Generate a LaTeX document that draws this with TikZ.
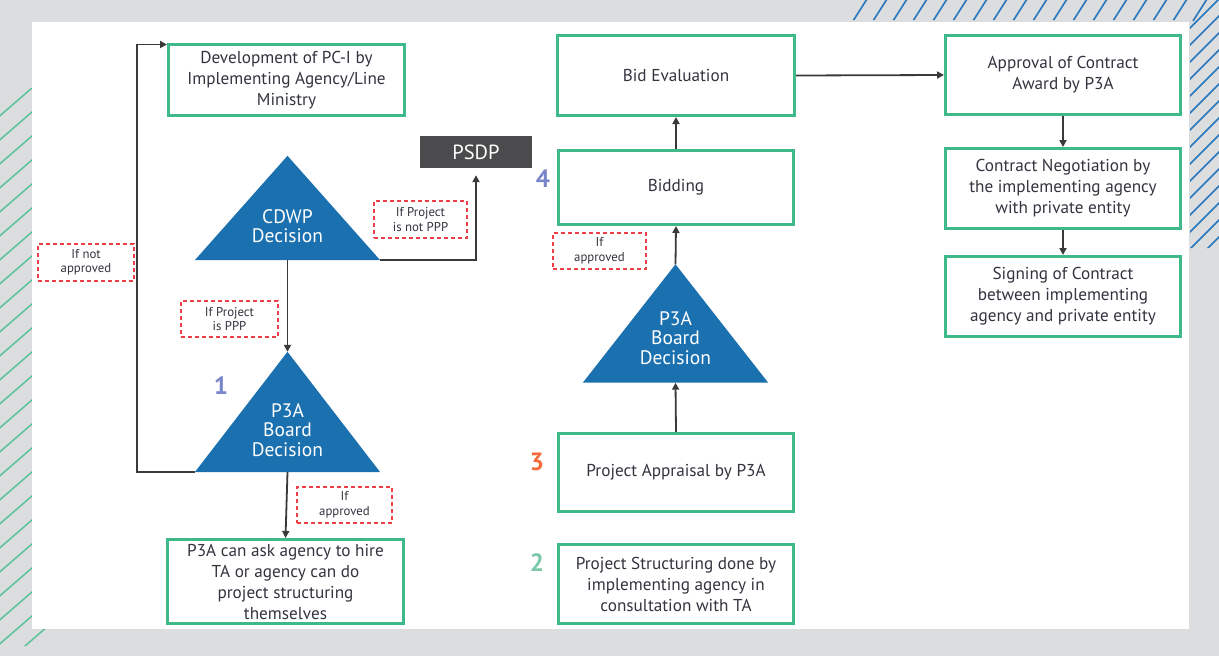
\documentclass[tikz,border=0pt]{standalone}
\usepackage{fontspec}
\setmainfont{PT Sans}
\usetikzlibrary{arrows.meta}
\definecolor{bggrey}{HTML}{DCDDDF}
\definecolor{boxgreen}{HTML}{3DB98A}
\definecolor{hgreen}{HTML}{5FC49B}
\definecolor{hblue}{HTML}{2677BD}
\definecolor{triblue}{HTML}{1B70AF}
\definecolor{txt}{HTML}{34333F}
\definecolor{dashred}{HTML}{EE3E46}
\definecolor{psdpgrey}{HTML}{4B4B4D}
\definecolor{arrowgrey}{HTML}{3A3A3A}
\definecolor{numblue}{HTML}{7885C8}
\definecolor{numorange}{HTML}{F26B3A}
\definecolor{numgreen}{HTML}{7CC8A8}
\tikzset{
  gbox/.style={draw=boxgreen, line width=3pt, fill=white, inner sep=0pt, align=center,
    text=txt, font=\fontsize{17.2}{21}\selectfont},
  condbox/.style={draw=dashred, line width=1.5pt, dash pattern=on 4pt off 3pt, inner sep=0pt,
    align=center, text=txt, font=\fontsize{12.8}{14.5}\selectfont},
  trinode/.style={inner sep=0pt, draw=none},
  tritext/.style={text=white, align=center, font=\fontsize{19.5}{19.5}\selectfont},
  numlabel/.style={font=\fontsize{25}{25}\selectfont\bfseries},
  conn/.style={draw=arrowgrey, line width=1.8pt, -{Triangle[length=7pt,width=7pt]}},
  plainconn/.style={draw=arrowgrey, line width=1.8pt}
}
\begin{document}
\begin{tikzpicture}[x=1pt,y=-1pt]
\useasboundingbox (0,0) rectangle (1219,656);
\fill[bggrey] (0,0) rectangle (1219,656);
% hatching left (green)
\begin{scope}
  \clip (0,88) -- (32,88) -- (32,629) -- (48,629) -- (48,646) -- (0,646) -- cycle;
  \foreach \i in {0,...,26} {
    \draw[hgreen, line width=1.6pt] (-5,{88+\i*24+28+4}) -- ++(60,-52);
  }
\end{scope}
% hatching top-right (blue)
\begin{scope}
  \clip (853,0) -- (1219,0) -- (1219,248) -- (1190,248) -- (1190,20) -- (853,20) -- cycle;
  \foreach \i in {0,...,17} {
    \draw[hblue, line width=1.6pt] ({853+\i*20},21) -- ++(14,-22);
  }
  \foreach \i in {0,...,16} {
    \draw[hblue, line width=1.6pt] (1188,{30+\i*17}) -- ++(32,-32);
  }
\end{scope}
\fill[white] (32,22) rectangle (1189,629);

% boxes
\node[gbox, minimum width=236pt, minimum height=71pt] (dev) at (286.5,80)
  {Development of PC-I by\\Implementing Agency/Line\\Ministry};
\node[gbox, minimum width=236pt, minimum height=84pt] (p3ask) at (285.5,581.5)
  {P3A can ask agency to hire\\TA or agency can do\\project structuring\\themselves};
\node[gbox, minimum width=237pt, minimum height=80pt] (bideval) at (676,75.5) {Bid Evaluation};
\node[gbox, minimum width=235pt, minimum height=74pt] (bidding) at (676,187.5) {Bidding};
\node[gbox, minimum width=235pt, minimum height=78pt] (appraisal) at (676,472.5) {Project Appraisal by P3A};
\node[gbox, minimum width=235pt, minimum height=79pt] (structuring) at (676,584)
  {Project Structuring done by\\implementing agency in\\consultation with TA};
\node[gbox, minimum width=235pt, minimum height=79pt] (approval) at (1063,75)
  {Approval of Contract\\Award by P3A};
\node[gbox, minimum width=235pt, minimum height=80pt] (negotiation) at (1063,188.5)
  {Contract Negotiation by\\the implementing agency\\with private entity};
\node[gbox, minimum width=235pt, minimum height=80pt] (signing) at (1063,296.5)
  {Signing of Contract\\between implementing\\agency and private entity};

% PSDP
\node[fill=psdpgrey, minimum width=112pt, minimum height=32pt, inner sep=0pt, text=white,
  font=\fontsize{20.5}{20.5}\selectfont] (psdp) at (476,152) {PSDP};

% triangles
\node[trinode, minimum width=185pt, minimum height=104pt] (cdwp) at (287.5,208) {};
\fill[triblue] (cdwp.north) -- (cdwp.south west) -- (cdwp.south east) -- cycle;
\node[tritext] (cdwptext) at (287.5,226) {CDWP\\Decision};
\node[trinode, minimum width=185pt, minimum height=120pt] (triA) at (287.5,412) {};
\fill[triblue] (triA.north) -- (triA.south west) -- (triA.south east) -- cycle;
\node[tritext] (triAtext) at (287.5,430) {P3A\\Board\\Decision};
\node[trinode, minimum width=185pt, minimum height=118pt] (triB) at (675.5,323.5) {};
\fill[triblue] (triB.north) -- (triB.south west) -- (triB.south east) -- cycle;
\node[tritext] (triBtext) at (675.5,338) {P3A\\Board\\Decision};

% condition labels
\node[condbox, minimum width=96pt, minimum height=37pt] (notappr) at (86,262.5) {If not\\approved};
\node[condbox, minimum width=97pt, minimum height=36pt] (ppp) at (229.5,319) {If Project\\is PPP};
\node[condbox, minimum width=95pt, minimum height=36pt] (apprA) at (344.5,505) {If\\approved};
\node[condbox, minimum width=93pt, minimum height=37pt] (notppp) at (420.5,219.5) {If Project\\is not PPP};
\node[condbox, minimum width=93pt, minimum height=36pt] (apprB) at (599.5,251) {If\\approved};

% numbers
\node[numlabel, text=numblue] (n1) at (221,386) {1};
\node[numlabel, text=numblue] (n4) at (543,179) {4};
\node[numlabel, text=numorange] (n3) at (537,462) {3};
\node[numlabel, text=numgreen] (n2) at (537,563) {2};

% connectors
\coordinate (loopx) at (137,0);
\draw[conn] (cdwp.south) -- (triA.north);
\draw[conn] (triA.south) -- (p3ask.north);
\draw[conn] (triA.south west) -- (triA.south west -| loopx) |- ([yshift=-1.5pt]dev.north west);
\draw[conn, shorten >=7pt] (cdwp.south east) -- (cdwp.south east -| psdp.south) -- (psdp.south);
\draw[conn] (appraisal.north) -- (triB.south);
\draw[conn] (triB.north) -- (bidding.south);
\draw[conn] (bidding.north) -- (bideval.south);
\draw[conn] (bideval.east) -- (approval.west);
\draw[conn] (approval.south) -- (negotiation.north);
\draw[conn] (negotiation.south) -- (signing.north);
\end{tikzpicture}
\end{document}
